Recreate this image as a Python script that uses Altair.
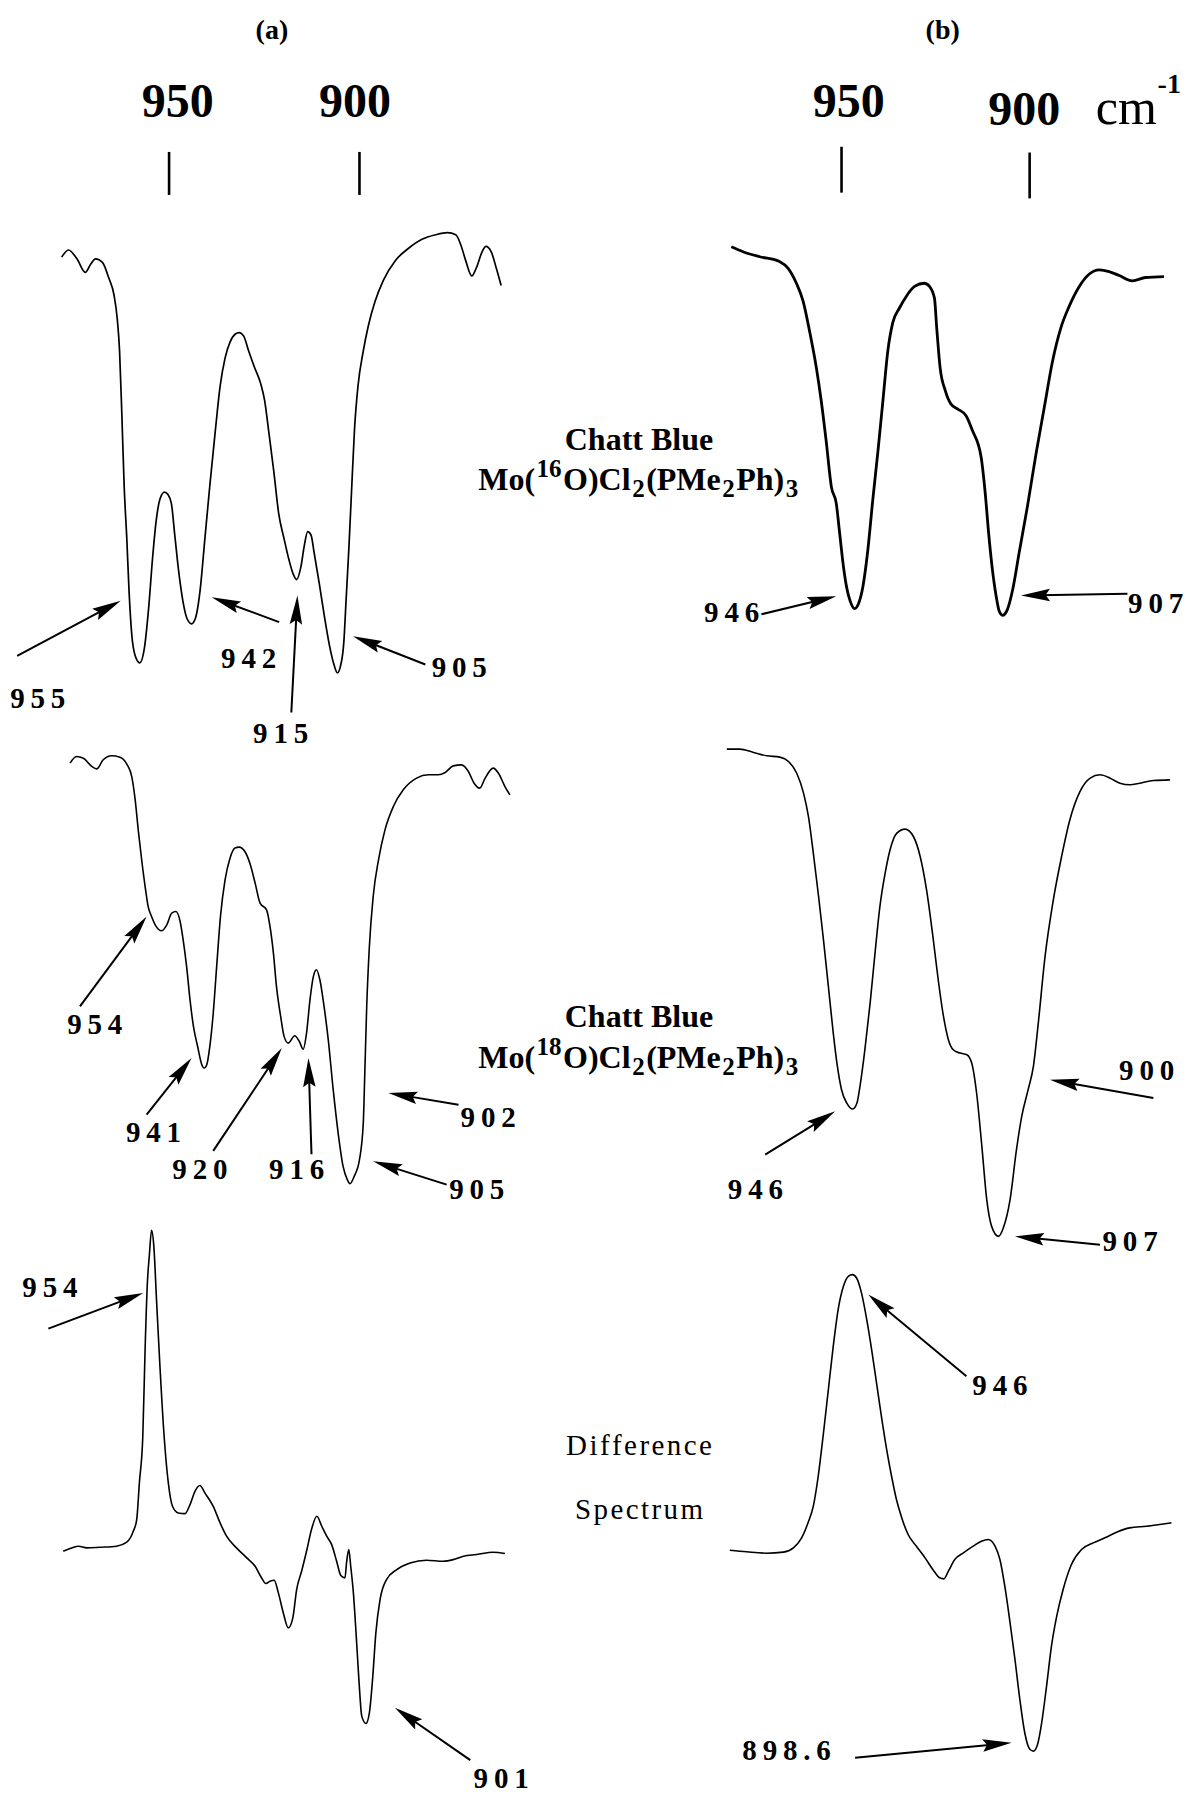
import math
import altair as alt
import pandas as pd

# ---------------- figure frame ----------------
W, H = 1194, 1798
T_MAX = 1568.0                      # stacked signal, arbitrary units
LEFT_DOMAIN = [680.85, 994.40]      # cm-1, column (a)
RIGHT_DOMAIN = [856.31, 1173.69]    # cm-1, column (b)
SERIF = "Liberation Serif"
HEAD_PATH = "M0,0L0.43,2L0,1.7L-0.43,2Z"
HEAD_LEN = 29

# ---------------- spectra (wavenumber, stacked signal) ----------------
# (a) top: Mo(16O)
A1_WN = [978.2, 976.4, 974.2, 972.0, 970.6, 969.3, 967.5, 965.8, 964.5, 963.6, 963.0, 962.4, 961.8, 961.1, 960.5,
         959.8, 958.9, 957.7, 956.5, 955.4, 954.3, 953.4, 952.3, 951.2, 950.3, 949.4, 948.5, 947.5, 946.3, 945.3,
         944.1, 943.1, 941.9, 940.6, 939.3, 937.9, 936.6, 935.3, 934.0, 932.6, 931.6, 930.4, 929.1, 927.6, 926.0,
         924.9, 923.8, 922.5, 921.2, 919.8, 918.5, 917.4, 916.5, 915.4, 914.5, 913.6, 912.7, 911.9, 910.5, 909.2,
         907.9, 906.7, 905.8, 905.0, 904.1, 903.5, 902.8, 902.1, 901.3, 900.4, 899.0, 897.7, 895.9, 893.7, 890.6,
         887.1, 883.6, 880.0, 876.9, 874.7, 873.4, 872.1, 870.5, 869.3, 867.8, 866.8, 865.4, 864.1, 862.8]
A1_T = [1343.8, 1350.0, 1342.3, 1330.5, 1337.6, 1342.3, 1339.2, 1325.3, 1311.4, 1289.7, 1261.9, 1206.3, 1144.5, 1098.1, 1051.8,
        1014.7, 996.2, 990.0, 1002.4, 1036.4, 1082.7, 1113.6, 1133.7, 1138.9, 1136.8, 1129.0, 1101.2, 1070.3, 1042.5, 1028.6,
        1024.0, 1028.6, 1051.8, 1098.1, 1144.5, 1190.9, 1231.0, 1255.7, 1269.6, 1276.7, 1278.0, 1274.9, 1261.9, 1248.0, 1234.1,
        1218.7, 1190.9, 1156.9, 1119.8, 1098.1, 1079.6, 1067.3, 1062.6, 1073.4, 1091.9, 1104.3, 1101.2, 1085.8, 1058.0, 1030.2,
        1005.4, 988.4, 981.3, 986.9, 1008.5, 1045.6, 1088.9, 1138.3, 1193.9, 1231.0, 1261.9, 1283.5, 1305.2, 1323.7, 1340.7,
        1351.5, 1359.3, 1363.3, 1365.1, 1363.3, 1354.6, 1340.7, 1327.4, 1334.5, 1348.4, 1353.1, 1348.4, 1334.5, 1319.1]

# (a) middle: Mo(18O)
A2_WN = [976.0, 974.3, 972.5, 970.3, 969.0, 967.3, 965.1, 962.9, 961.0, 959.8, 958.9, 958.1, 957.2, 956.3, 955.5,
         954.6, 953.4, 952.0, 950.6, 949.3, 948.2, 947.1, 946.3, 945.4, 944.5, 943.6, 942.5, 941.4, 940.8, 940.1,
         939.3, 938.4, 937.5, 936.5, 935.3, 934.0, 932.7, 931.6, 930.1, 928.8, 927.4, 926.1, 924.4, 923.5, 922.6,
         921.8, 920.7, 919.8, 918.7, 917.0, 915.8, 914.8, 913.9, 913.0, 912.1, 911.3, 910.4, 909.3, 908.2, 906.9,
         905.6, 904.3, 903.2, 902.5, 901.4, 900.0, 899.0, 898.6, 898.1, 897.4, 896.4, 895.0, 893.3, 891.1, 888.5,
         885.0, 881.9, 879.3, 877.5, 875.4, 873.2, 871.4, 869.9, 868.4, 867.0, 864.9, 863.5, 861.8, 860.5]
A2_T = [902.5, 908.3, 906.8, 899.6, 897.5, 905.4, 908.9, 907.7, 901.0, 890.8, 870.5, 844.3, 818.2, 795.1, 777.5,
        768.8, 760.1, 756.3, 761.5, 771.7, 773.1, 764.4, 748.4, 725.2, 696.1, 672.9, 655.4, 639.5, 636.6, 639.5,
        655.4, 684.5, 725.2, 768.8, 800.7, 819.6, 828.4, 829.2, 825.4, 815.3, 797.8, 780.4, 774.6, 760.1, 736.8,
        707.8, 681.6, 664.2, 658.3, 664.8, 659.8, 653.1, 667.1, 696.1, 716.5, 722.3, 713.6, 690.3, 661.3, 617.7,
        579.9, 550.8, 539.2, 535.7, 542.1, 556.7, 588.6, 632.2, 690.3, 742.6, 786.2, 818.2, 844.3, 864.7, 879.2,
        889.4, 892.3, 892.3, 894.3, 900.1, 901.0, 895.2, 885.0, 880.7, 889.4, 898.1, 893.7, 882.1, 874.8]

# (a) bottom: difference spectrum
A3_WN = [977.8, 975.6, 973.8, 971.6, 968.1, 963.8, 961.1, 959.4, 958.5, 957.8, 956.9, 956.3, 955.7, 955.2, 954.6,
         954.0, 953.3, 952.4, 951.3, 950.2, 949.1, 947.6, 945.8, 944.5, 943.2, 941.9, 940.6, 938.4, 936.6, 934.9,
         932.3, 929.6, 927.4, 925.7, 924.6, 923.5, 922.4, 921.3, 920.0, 918.7, 917.5, 916.5, 915.2, 913.9, 912.6,
         911.2, 909.9, 908.6, 907.3, 906.0, 904.9, 903.8, 903.4, 902.8, 902.3, 901.6, 900.9, 900.1, 899.4, 898.3,
         897.4, 896.5, 895.7, 894.6, 892.9, 890.2, 886.7, 882.4, 878.0, 875.4, 872.7, 869.2, 864.9, 861.8]
A3_T = [215.2, 218.1, 219.6, 218.1, 218.7, 219.6, 223.1, 232.6, 242.8, 274.8, 315.5, 391.0, 449.1, 472.4, 495.0,
        481.1, 434.6, 376.5, 315.5, 274.8, 254.4, 248.6, 248.0, 255.9, 267.5, 272.5, 266.1, 254.4, 239.9, 228.3,
        218.1, 209.4, 202.1, 191.9, 187.0, 189.1, 189.9, 178.9, 161.4, 148.4, 157.1, 181.8, 197.8, 215.2, 234.1,
        245.7, 237.0, 228.3, 221.0, 206.5, 194.0, 192.0, 205.0, 216.7, 202.1, 178.9, 144.0, 100.4, 71.4, 65.0,
        74.3, 106.2, 144.0, 173.1, 190.5, 199.2, 205.0, 207.4, 206.5, 207.9, 210.9, 212.3, 214.3, 213.2]

# (b) top
B1_WN = [979.3, 976.2, 971.7, 966.4, 964.2, 962.0, 960.2, 958.5, 956.7, 955.4, 954.1, 952.7, 951.4, 950.5, 949.5,
         948.7, 947.7, 946.5, 945.4, 944.3, 943.0, 941.7, 940.3, 939.0, 937.7, 936.4, 934.6, 932.8, 930.6, 928.0,
         926.6, 925.3, 924.7, 923.8, 922.4, 920.9, 919.1, 916.9, 915.2, 912.9, 911.8, 910.9, 910.0, 908.9, 908.1,
         907.2, 905.9, 904.5, 902.8, 900.6, 898.3, 896.1, 893.9, 891.7, 889.5, 886.8, 884.2, 881.5, 878.9, 876.2,
         872.7, 869.2, 864.3]
B1_T = [1352.8, 1348.5, 1344.1, 1339.8, 1334.0, 1321.0, 1305.2, 1279.2, 1247.4, 1218.5, 1183.9, 1143.4, 1129.0, 1103.0, 1074.1,
        1056.8, 1043.8, 1037.2, 1042.3, 1056.8, 1088.6, 1131.9, 1175.2, 1218.5, 1261.8, 1286.4, 1299.4, 1309.5, 1318.2, 1321.0,
        1318.2, 1308.0, 1282.1, 1247.4, 1227.2, 1215.6, 1211.3, 1205.5, 1192.5, 1169.4, 1137.7, 1103.0, 1074.1, 1048.1, 1035.1,
        1031.4, 1036.6, 1053.9, 1085.7, 1126.1, 1172.3, 1212.8, 1253.2, 1282.1, 1300.8, 1318.2, 1328.8, 1332.6, 1331.2, 1327.7,
        1323.1, 1326.0, 1326.8]

# (b) middle
B2_WN = [980.5, 977.0, 973.4, 969.9, 966.4, 964.1, 961.9, 960.1, 958.8, 957.5, 956.1, 954.8, 953.5, 952.2, 951.1,
         950.0, 948.6, 947.0, 945.9, 945.1, 943.8, 942.4, 941.1, 939.8, 938.4, 937.1, 935.3, 933.1, 930.9, 929.1,
         927.4, 925.6, 924.3, 922.9, 921.6, 920.3, 918.5, 916.7, 915.4, 914.1, 912.7, 911.4, 910.1, 908.3, 907.0,
         905.2, 903.5, 902.1, 900.4, 899.0, 897.7, 895.9, 893.7, 891.5, 889.3, 886.6, 883.9, 881.3, 878.6, 876.0,
         873.3, 870.7, 867.1, 862.7]
B2_T = [914.7, 914.7, 911.8, 908.9, 907.7, 903.9, 893.7, 876.3, 856.0, 824.0, 786.2, 748.4, 707.8, 667.1, 638.0,
        617.7, 606.0, 600.8, 606.0, 620.6, 652.5, 693.2, 736.8, 777.5, 806.6, 826.9, 841.4, 844.9, 838.5, 821.1,
        792.0, 748.4, 713.6, 681.6, 661.3, 652.5, 649.6, 648.2, 640.9, 614.8, 568.3, 521.8, 498.5, 489.8, 497.1,
        521.8, 565.4, 594.4, 617.7, 638.0, 675.8, 733.9, 783.3, 821.1, 853.1, 877.8, 889.4, 892.3, 889.4, 885.0,
        883.6, 885.0, 887.3, 887.9]

# (b) bottom: difference spectrum
B3_WN = [979.7, 975.2, 969.9, 965.5, 962.8, 960.6, 958.9, 957.5, 956.2, 954.9, 953.5, 952.2, 950.9, 949.5, 948.2,
         947.1, 946.0, 944.7, 943.3, 942.0, 940.7, 939.4, 938.0, 936.7, 935.4, 934.0, 932.3, 930.1, 927.8, 925.6,
         923.9, 922.8, 921.6, 919.9, 917.6, 915.0, 912.8, 911.0, 909.2, 907.9, 906.6, 905.2, 903.9, 902.6, 901.3,
         899.9, 899.0, 897.9, 896.8, 895.5, 894.2, 892.8, 891.1, 888.9, 886.2, 883.1, 880.0, 876.9, 873.4, 868.9,
         865.4, 862.3]
B3_T = [216.1, 214.7, 213.5, 214.4, 218.2, 226.9, 240.0, 254.5, 280.6, 315.5, 356.2, 394.0, 426.0, 446.3, 455.0,
        456.4, 453.5, 440.5, 417.2, 391.1, 362.0, 332.9, 303.9, 280.6, 260.3, 244.3, 229.8, 219.6, 209.4, 198.7,
        192.0, 191.1, 197.8, 208.0, 213.8, 219.6, 224.0, 225.4, 219.6, 208.0, 184.7, 152.8, 120.8, 85.9, 56.9,
        42.3, 40.9, 46.7, 65.6, 97.6, 132.4, 158.6, 181.8, 203.6, 216.7, 222.5, 226.9, 231.8, 235.6, 237.0,
        238.5, 240.0]

# ---------------- peak annotations ----------------
L_LABELS = ["955", "942", "915", "905", "954", "941", "920", "916", "902", "905", "954", "901"]
L_LAB_WN = [984.5, 929.1, 920.7, 873.8, 969.5, 954.1, 941.9, 916.5, 866.2, 869.2, 981.3, 862.8]
L_LAB_T = [958.0, 993.1, 928.2, 985.4, 674.3, 579.9, 547.9, 547.9, 593.0, 530.5, 444.8, 17.0]
L_TAIL_WN = [989.9, 921.1, 917.9, 882.7, 973.4, 955.9, 938.4, 912.6, 874.0, 877.1, 981.7, 870.9]
L_TAIL_T = [996.0, 1025.5, 946.7, 988.5, 690.3, 595.9, 564.3, 561.4, 604.6, 534.9, 409.3, 33.0]
L_HEAD_WN = [962.7, 938.8, 916.3, 901.7, 955.9, 944.1, 920.4, 913.4, 892.4, 896.4, 956.8, 890.7]
L_HEAD_T = [1044.1, 1047.2, 1048.7, 1013.2, 768.8, 645.3, 654.0, 645.3, 614.8, 555.2, 440.4, 78.6]

R_LABELS = ["946", "907", "946", "900", "907", "946", "898.6"]
R_LAB_WN = [979.2, 866.5, 972.9, 868.9, 873.3, 907.9, 964.6]
R_LAB_T = [1033.7, 1040.9, 530.5, 633.6, 485.0, 359.1, 40.9]
R_TAIL_WN = [971.3, 874.0, 970.3, 867.1, 881.3, 916.8, 946.4]
R_TAIL_T = [1032.3, 1050.1, 561.0, 610.4, 482.5, 367.8, 35.1]
R_HEAD_WN = [951.4, 902.3, 951.7, 894.6, 903.9, 942.9, 904.8]
R_HEAD_T = [1048.1, 1048.7, 598.8, 626.4, 489.8, 439.0, 48.2]

# ---------------- scale ticks and headings ----------------
TICK_WN = [950, 900]
L_TICK_T0 = [1398.0, 1398.0]
L_TICK_T1 = [1435.5, 1435.5]
R_TICK_T0 = [1400.0, 1395.0]
R_TICK_T1 = [1440.0, 1435.0]
L_TICK_LAB_WN = [947.7, 901.2]
L_TICK_LAB_T = [1478.0, 1478.0]
R_TICK_LAB_WN = [948.1, 901.4]
R_TICK_LAB_T = [1478.0, 1471.0]
TICK_TEXT = ["950", "900"]

MID_WN = 826.6
CHATT_T = [1184.0, 681.0]
FORMULA_T = [1150.0, 646.0]
FORMULA_ISOTOPE = ["16", "18"]
MID_PLAIN_TEXT = ["Difference", "Spectrum"]
MID_PLAIN_T = [306.7, 251.5]

# Times/Liberation Serif Bold advance widths (per 1000 em) for the formula glyphs
BOLD_WIDTHS = {"M": 944, "o": 500, "(": 333, ")": 333, "O": 778, "C": 722, "l": 278,
               "P": 611, "e": 444, "h": 556, "0": 500, "1": 500, "2": 500, "3": 500,
               "6": 500, "8": 500}

KX = {"L": W / (LEFT_DOMAIN[1] - LEFT_DOMAIN[0]), "R": W / (RIGHT_DOMAIN[1] - RIGHT_DOMAIN[0])}
KY = H / T_MAX


def xscale(side):
    dom = LEFT_DOMAIN if side == "L" else RIGHT_DOMAIN
    return alt.Scale(domain=dom, reverse=True, nice=False, zero=False)


YSCALE = alt.Scale(domain=[0, T_MAX], nice=False, zero=False)


def X(field, side):
    return alt.X(f"{field}:Q", scale=xscale(side), axis=None)


def Y(field):
    return alt.Y(f"{field}:Q", scale=YSCALE, axis=None)


def spaced(s, sep="\u2009"):
    return sep.join(list(s))


def spectra_layer(specs, side):
    rows = []
    for name, (wn, t, w) in specs.items():
        assert len(wn) == len(t), name
        for i, (a, b) in enumerate(zip(wn, t)):
            rows.append({"panel": name, "i": i, "wn": a, "t": b, "w": w})
    df = pd.DataFrame(rows)
    return alt.Chart(df).mark_line(color="black", interpolate="monotone").encode(
        x=X("wn", side), y=Y("t"), detail="panel:N", order="i:Q",
        strokeWidth=alt.StrokeWidth("w:Q", scale=None, legend=None),
    )


def arrow_layers(side, labels, lw, lt, tw, tt, hw, ht):
    rows = []
    for lab, a, b, c, d, e, f in zip(labels, lw, lt, tw, tt, hw, ht):
        dx = -(e - c) * KX[side]
        dy = -(f - d) * KY
        length = math.hypot(dx, dy)
        ang = math.degrees(math.atan2(dx, -dy)) % 360
        frac = max(0.0, 1 - 0.6 * HEAD_LEN / length)
        rows.append({"txt": spaced(lab), "lw": a, "lt": b, "tw": c, "tt": d,
                     "ew": c + (e - c) * frac, "et": d + (f - d) * frac,
                     "hw": e, "ht": f, "ang": ang})
    df = pd.DataFrame(rows)
    shafts = alt.Chart(df).mark_rule(color="black", strokeWidth=2).encode(
        x=X("tw", side), x2="ew:Q", y=Y("tt"), y2="et:Q")
    heads = alt.Chart(df).mark_point(shape=HEAD_PATH, filled=True, size=HEAD_LEN ** 2,
                                     color="black", opacity=1, strokeWidth=0).encode(
        x=X("hw", side), y=Y("ht"), angle=alt.Angle("ang:Q", scale=None))
    texts = alt.Chart(df).mark_text(font=SERIF, fontWeight="bold", fontSize=29, color="black",
                                    align="center", baseline="middle").encode(
        x=X("lw", side), y=Y("lt"), text="txt:N")
    return [shafts, heads, texts]


def tick_layers(side, t0, t1, lab_wn, lab_t):
    df = pd.DataFrame({"wn": TICK_WN, "t0": t0, "t1": t1, "lw": lab_wn, "lt": lab_t, "txt": TICK_TEXT})
    ticks = alt.Chart(df).mark_rule(color="black", strokeWidth=2.6).encode(
        x=X("wn", side), y=Y("t0"), y2="t1:Q")
    labs = alt.Chart(df).mark_text(font=SERIF, fontWeight="bold", fontSize=48, color="black",
                                   align="center", baseline="middle").encode(
        x=X("lw", side), y=Y("lt"), text="txt:N")
    return [ticks, labs]


def text_layer(side, wn, t, txt, size, weight="bold", align="center"):
    df = pd.DataFrame({"wn": wn, "t": t, "txt": txt})
    return alt.Chart(df).mark_text(font=SERIF, fontWeight=weight, fontSize=size, color="black",
                                   align=align, baseline="middle").encode(
        x=X("wn", side), y=Y("t"), text="txt:N")


def formula_layer(center_wn, t_values, isotopes, size=32, small=25, gap=1.5):
    rows = []
    for t_mid, iso in zip(t_values, isotopes):
        segs = [("Mo(", "n"), (iso, "sup"), ("O)Cl", "n"), ("2", "sub"), ("(PMe", "n"),
                ("2", "sub"), ("Ph)", "n"), ("3", "sub")]
        widths = []
        for txt, kind in segs:
            fs = size if kind == "n" else small
            widths.append(sum(BOLD_WIDTHS[ch] for ch in txt) / 1000.0 * fs + gap)
        total = sum(widths)
        base = t_mid - 0.34 * size / KY          # alphabetic baseline
        pos = -total / 2.0
        for (txt, kind), wdt in zip(segs, widths):
            shift = {"n": 0.0, "sup": 0.42 * size, "sub": -0.22 * size}[kind]
            rows.append({"wn": center_wn - pos / KX["L"], "t": base + shift / KY, "txt": txt,
                         "fs": size if kind == "n" else small})
            pos += wdt
    df = pd.DataFrame(rows)
    return alt.Chart(df).mark_text(font=SERIF, fontWeight="bold", color="black",
                                   align="left", baseline="alphabetic").encode(
        x=X("wn", "L"), y=Y("t"), text="txt:N",
        size=alt.Size("fs:Q", scale=None, legend=None))


layers = []
layers.append(spectra_layer({"a1": (A1_WN, A1_T, 1.7), "a2": (A2_WN, A2_T, 1.6), "a3": (A3_WN, A3_T, 1.6)}, "L"))
layers.append(spectra_layer({"b1": (B1_WN, B1_T, 2.8), "b2": (B2_WN, B2_T, 1.6), "b3": (B3_WN, B3_T, 1.6)}, "R"))
layers += arrow_layers("L", L_LABELS, L_LAB_WN, L_LAB_T, L_TAIL_WN, L_TAIL_T, L_HEAD_WN, L_HEAD_T)
layers += arrow_layers("R", R_LABELS, R_LAB_WN, R_LAB_T, R_TAIL_WN, R_TAIL_T, R_HEAD_WN, R_HEAD_T)
layers += tick_layers("L", L_TICK_T0, L_TICK_T1, L_TICK_LAB_WN, L_TICK_LAB_T)
layers += tick_layers("R", R_TICK_T0, R_TICK_T1, R_TICK_LAB_WN, R_TICK_LAB_T)
layers.append(text_layer("R", [874.3], [1473.0], ["cm"], 50, weight="normal"))
layers.append(text_layer("R", [862.9], [1494.0], ["-1"], 28))
layers.append(text_layer("L", [923.0], [1541.0], ["(a)"], 28))
layers.append(text_layer("R", [923.1], [1541.0], ["(b)"], 28))
layers.append(text_layer("L", [MID_WN] * 2, CHATT_T, ["Chatt  Blue"] * 2, 32))
layers.append(formula_layer(MID_WN, FORMULA_T, FORMULA_ISOTOPE))
layers.append(text_layer("L", [MID_WN] * 2, MID_PLAIN_T, [spaced(s, "\u200a") for s in MID_PLAIN_TEXT], 29,
                         weight="normal"))

chart = alt.layer(*layers).resolve_scale(x="independent").properties(
    width=W, height=H, padding=0, autosize=alt.AutoSizeParams(type="none"),
    background="white",
).configure_view(stroke=None)

chart.save("out.html", embed_options={"renderer": "svg", "actions": False})
